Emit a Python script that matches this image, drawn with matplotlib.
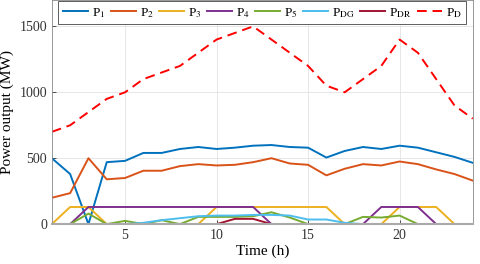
import numpy as np
import matplotlib
matplotlib.use("Agg")
import matplotlib.pyplot as plt

plt.rcParams['font.family'] = ['Liberation Serif', 'DejaVu Serif']
plt.rcParams['mathtext.fontset'] = 'stix'

hours = list(range(1, 25))

p1 = [500, 380, 0, 470, 480, 540, 540, 570, 585, 570, 580, 595,
      600, 585, 580, 505, 555, 585, 570, 595, 580, 545, 510, 465]
p2 = [200, 235, 500, 340, 350, 405, 405, 440, 455, 445, 450, 470,
      500, 460, 450, 370, 420, 455, 445, 475, 455, 415, 380, 330]
p3 = [0, 130, 130, 0, 0, 0, 0, 0, 0, 130, 130, 130,
      130, 130, 130, 130, 0, 0, 0, 130, 130, 130, 0, 0]
p4 = [0, 0, 130, 130, 130, 130, 130, 130, 130, 130, 130, 130,
      0, 0, 0, 0, 0, 0, 130, 130, 130, 0, 0, 0]
p5 = [0, 0, 80, 0, 25, 0, 30, 0, 55, 55, 55, 60,
      90, 50, 0, 0, 0, 55, 50, 65, 0, 0, 0, 0]
p_dg = [0, 0, 0, 0, 0, 10, 30, 45, 60, 65, 65, 70,
        70, 65, 35, 35, 10, 0, 0, 0, 0, 0, 0, 0]
p_dr = [0, 0, 0, 0, 0, 0, 0, 0, 0, 0, 40, 40,
        0, 0, 0, 0, 0, 0, 0, 0, 0, 0, 0, 0]
p_d = [700, 750, 850, 950, 1000, 1100, 1150, 1200, 1300, 1400, 1450, 1500,
       1400, 1300, 1200, 1050, 1000, 1100, 1200, 1400, 1300, 1100, 900, 800]

series = [
    (p1, r'P$_{1}$', '#0072BD'),
    (p2, r'P$_{2}$', '#D95319'),
    (p3, r'P$_{3}$', '#EDB120'),
    (p4, r'P$_{4}$', '#7E2F8E'),
    (p5, r'P$_{5}$', '#77AC30'),
    (p_dg, r'P$_{\mathrm{DG}}$', '#4DBEEE'),
    (p_dr, r'P$_{\mathrm{DR}}$', '#A2142F'),
]

fig = plt.figure(figsize=(4.8, 2.64), dpi=100)
ax = fig.add_axes([0.108, 0.151, 0.877, 0.849])

for vals, lab, col in series:
    ax.plot(hours, vals, color=col, linewidth=1.4, label=lab)
ax.plot(hours, p_d, color='red', linestyle=(0, (5, 3)), linewidth=1.4, label=r'P$_{\mathrm{D}}$')

ax.set_xlim(1, 24)
ax.set_ylim(0, 1700)
ax.set_xticks([5, 10, 15, 20])
ax.set_yticks([0, 500, 1000, 1500])
ax.tick_params(direction='in', labelsize=10, colors='#333333', length=3, width=0.6)
ax.grid(True, color='#e3e3e3', linewidth=0.6)
for s in ax.spines.values():
    s.set_color('#888888')
    s.set_linewidth(0.6)
ax.spines['bottom'].set_color('#aaaaaa')
ax.spines['bottom'].set_linewidth(1.5)

ax.set_xlabel('Time (h)', fontsize=11, labelpad=2)
ax.set_ylabel('Power output (MW)', fontsize=11, labelpad=4)

leg = ax.legend(loc='upper center', bbox_to_anchor=(0.5, 1.0), ncol=8, fontsize=9.5,
                handlelength=1.9, handletextpad=0.3, columnspacing=0.4,
                borderpad=0.35, borderaxespad=0.1, fancybox=False, framealpha=1)
leg.get_frame().set_edgecolor('#444444')
leg.get_frame().set_linewidth(0.6)

fig.savefig('out.png', dpi=100)
